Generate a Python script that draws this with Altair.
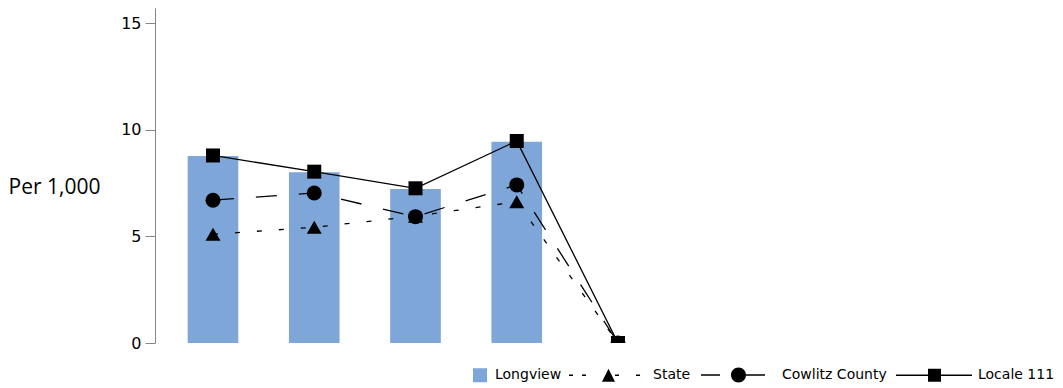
import altair as alt
import pandas as pd

# ---- data ----
categories = ["C1", "C2", "C3", "C4", "C5"]
series_names = ["Longview", "State", "Cowlitz County", "Locale 111"]
longview = [8.78, 8.01, 7.23, 9.44, None]
state = [5.10, 5.43, 5.95, 6.63, 0.0]
cowlitz = [6.70, 7.04, 5.93, 7.42, 0.0]
locale = [8.80, 8.04, 7.26, 9.48, 0.0]
y_ticks = [0, 5, 10, 15]

rows = []
for name, vals in zip(series_names, [longview, state, cowlitz, locale]):
    for c, v in zip(categories, vals):
        rows.append({"category": c, "series": name, "value": v})
df = pd.DataFrame(rows)

# ---- styles ----
BAR_COLOR = "#7EA6D8"
AXIS_GRAY = "#868686"
LINE_W = 1.3

# legend glyphs (custom symbol paths, unit box = 87px)
BOX = 87
U = BOX / 2.0


def f(v):
    return f"{v / U:.4f}"


def rect(x0, x1, y0, y1):
    return f"M{f(x0)},{f(y0)}L{f(x1)},{f(y0)}L{f(x1)},{f(y1)}L{f(x0)},{f(y1)}Z"


def hline(x0, x1, t=0.65):
    return rect(x0, x1, -t, t)


def tri(x0, x1, y0, y1):
    return f"M{f((x0 + x1) / 2)},{f(y0)}L{f(x1)},{f(y1)}L{f(x0)},{f(y1)}Z"


def circ(cx, r):
    return (f"M{f(cx - r)},0A{f(r)},{f(r)} 0 1,0 {f(cx + r)},0"
            f"A{f(r)},{f(r)} 0 1,0 {f(cx - r)},0Z")


EXT = "M-1,0L-1,0M1,0L1,0"
legend_paths = [
    EXT + rect(25.5, 39.5, -7, 7),
    EXT + hline(-36.5, -32.5) + hline(-23.5, -19.5) + tri(-3.5, 9.5, -6.5, 6.5)
    + hline(9.5, 13.5) + hline(30.5, 34.5),
    EXT + hline(-33.5, -14.5) + circ(4, 7.5) + hline(11.5, 30.5),
    EXT + hline(-34.5, -2.5) + rect(-2.5, 10.5, -6.5, 6.5) + hline(10.5, 41.5),
]
legend_fills = [BAR_COLOR, "black", "black", "black"]

x_enc = alt.X("category:N", sort=categories, axis=None,
              scale=alt.Scale(paddingInner=0.5, paddingOuter=0.3228))
y_enc = alt.Y("value:Q",
              scale=alt.Scale(domain=[0, 15.72], nice=False, zero=True),
              axis=alt.Axis(values=y_ticks, title="Per 1,000", titleAngle=0,
                            titleAlign="right", titleBaseline="alphabetic",
                            titleX=-55, titleY=185, titleFont="Open Sans",
                            titleFontSize=21, titleFontWeight="normal",
                            titleColor="black", labelFont="DejaVu Sans",
                            labelFontSize=16, labelColor="black", tickSize=10,
                            labelPadding=4, domainColor=AXIS_GRAY,
                            tickColor=AXIS_GRAY, grid=False))

base = alt.Chart(df)

bars = base.transform_filter(alt.datum.series == "Longview").mark_bar(
    color=BAR_COLOR).encode(x=x_enc, y=y_enc)


def line_layer(name, dash):
    kw = dict(color="black", strokeWidth=LINE_W, clip=True)
    if dash:
        kw["strokeDash"] = dash
    return base.transform_filter(alt.datum.series == name).mark_line(**kw).encode(
        x=x_enc, y="value:Q")


def point_layer(name, shape, size):
    return base.transform_filter(alt.datum.series == name).mark_point(
        shape=shape, filled=True, size=size, color="black", opacity=1,
        strokeWidth=0, clip=True).encode(x=x_enc, y="value:Q")


legend_layer = base.transform_filter("datum.value < -100").mark_point(
    filled=True, size=BOX * BOX, opacity=1, strokeWidth=0).encode(
    x=x_enc, y="value:Q",
    fill=alt.Fill("series:N",
                  scale=alt.Scale(domain=series_names, range=legend_fills),
                  legend=alt.Legend(title=None, orient="none", legendX=249,
                                    legendY=323, direction="horizontal",
                                    columns=4, gridAlign="each",
                                    symbolSize=BOX * BOX, symbolStrokeWidth=0,
                                    symbolOpacity=1, symbolOffset=0,
                                    labelFont="DejaVu Sans", labelFontSize=14,
                                    labelColor="black", labelOffset=4,
                                    columnPadding=-0.5, padding=0)),
    shape=alt.Shape("series:N",
                    scale=alt.Scale(domain=series_names, range=legend_paths)),
)

chart = alt.layer(
    bars,
    line_layer("State", [5, 17]),
    line_layer("Cowlitz County", [21, 22]),
    line_layer("Locale 111", None),
    point_layer("State", "triangle-up", 225),
    point_layer("Cowlitz County", "circle", 225),
    point_layer("Locale 111", "square", 196),
    legend_layer,
).properties(
    width=521, height=335,
    padding={"left": 147, "top": 0, "right": 379, "bottom": 43},
    autosize=alt.AutoSizeParams(type="none"),
).configure_view(stroke=None)

chart.save("out.html", embed_options={"renderer": "svg", "actions": False})
